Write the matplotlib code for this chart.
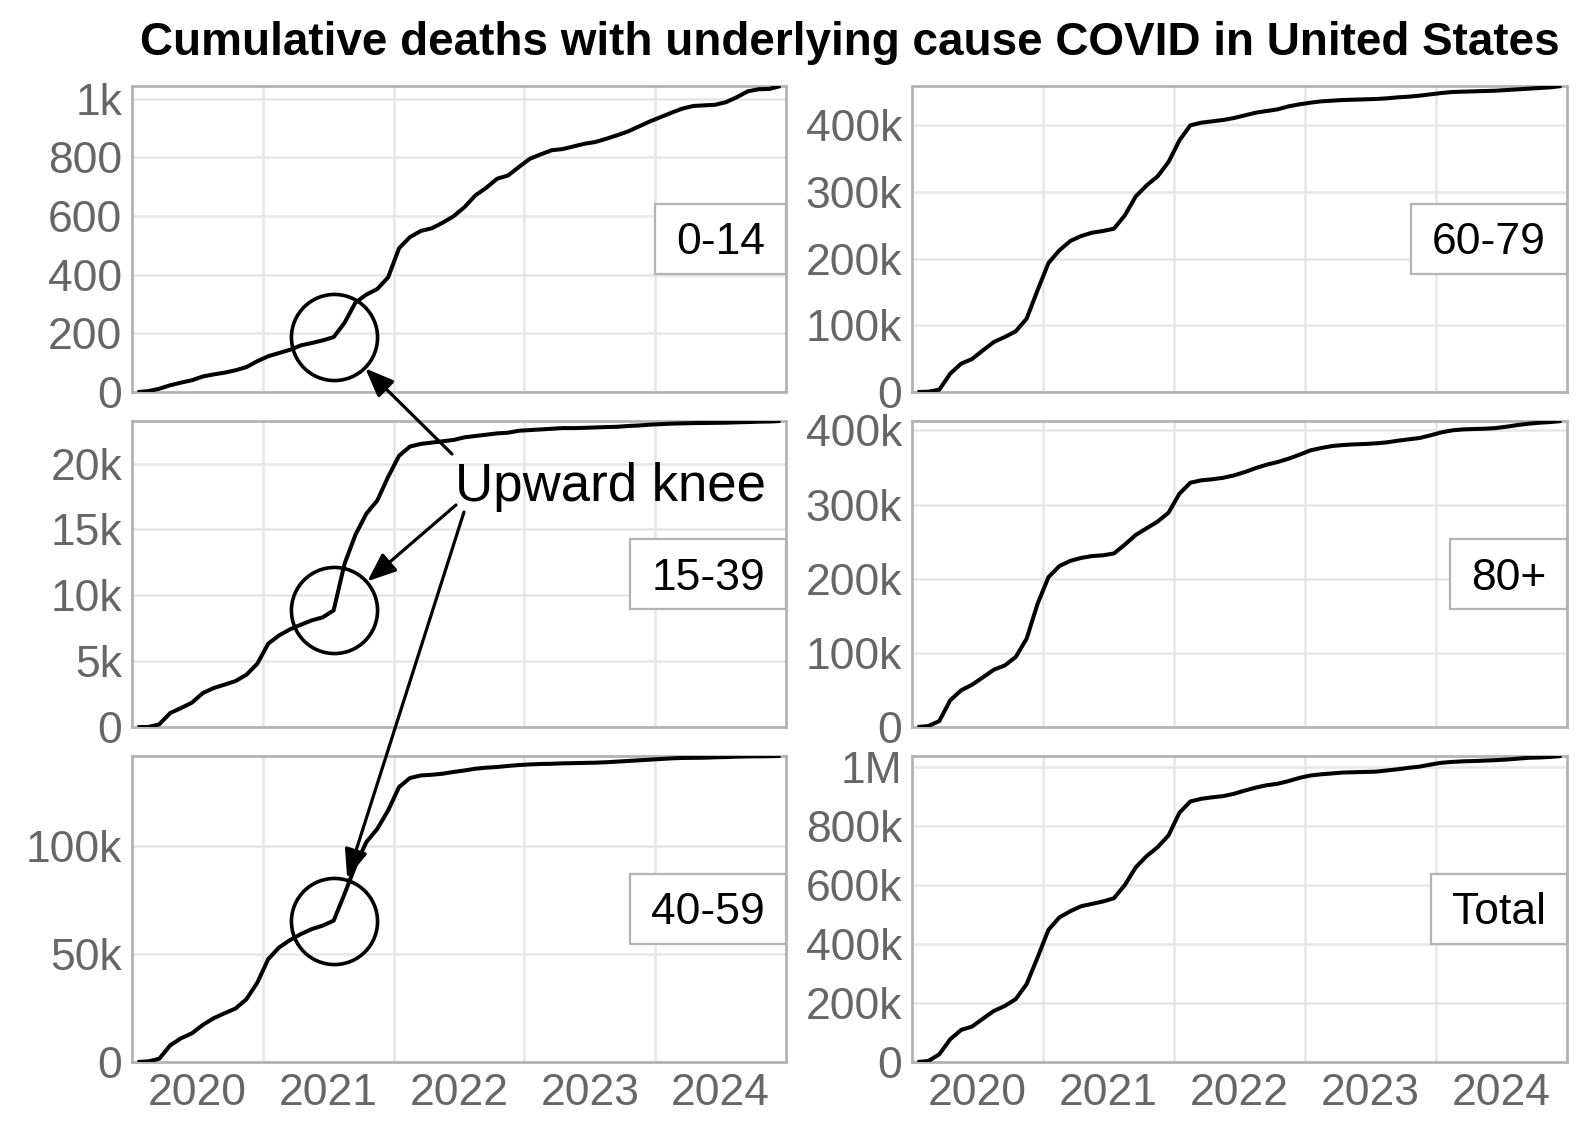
import numpy as np
import pandas as pd
import matplotlib
matplotlib.use("Agg")
import matplotlib.pyplot as plt
from matplotlib.patches import ConnectionPatch
from matplotlib.path import Path

plt.rcParams['font.family'] = ['Liberation Sans', 'DejaVu Sans']

# ---------------- data (monthly cumulative deaths, Jan 2020 - Dec 2024) ----------------
months = pd.date_range('2020-01-01', '2024-12-01', freq='MS')

age_0_14 = [0, 3, 11, 23, 32, 40, 53, 60, 66, 74, 85, 105,
            122, 133, 144, 159, 167, 176, 187, 236, 305, 332, 351, 391,
            490, 528, 549, 558, 577, 599, 630, 670, 696, 727, 738, 767,
            795, 810, 824, 828, 837, 846, 852, 863, 875, 888, 905, 922,
            937, 952, 966, 975, 977, 979, 988, 1005, 1025, 1032, 1033, 1043]

age_15_39 = [0, 0, 200, 1060, 1440, 1850, 2580, 2960, 3220, 3490, 3970, 4810,
             6330, 6960, 7420, 7770, 8100, 8330, 8860, 12400, 14600, 16200, 17200, 19000,
             20600, 21300, 21500, 21600, 21700, 21800, 22000, 22100, 22200, 22300, 22350, 22500,
             22550, 22600, 22650, 22700, 22700, 22720, 22750, 22780, 22800, 22860, 22900, 22960,
             23000, 23040, 23060, 23080, 23090, 23100, 23110, 23140, 23160, 23190, 23200, 23240]

age_40_59 = [0, 300, 1500, 7700, 11000, 13300, 17200, 20300, 22600, 24800, 29100, 36800,
             47700, 53100, 56500, 59300, 61600, 63200, 65500, 77900, 91000, 101900, 108000, 116600,
             127400, 131600, 132800, 133100, 133600, 134400, 135100, 135900, 136400, 136700, 137200, 137600,
             137900, 138100, 138200, 138400, 138500, 138600, 138700, 138900, 139200, 139500, 139800, 140100,
             140400, 140700, 140900, 140950, 141000, 141200, 141300, 141500, 141600, 141650, 141700, 141800]

age_60_79 = [0, 500, 3500, 27500, 42500, 49500, 62500, 75000, 82500, 91000, 110000, 152500,
             193500, 212500, 226500, 234000, 239000, 241500, 245000, 265000, 293500, 310000, 323500, 345000,
             377500, 400000, 404000, 406000, 408000, 411000, 415000, 419000, 421500, 424000, 428500, 431500,
             434000, 436000, 437000, 438000, 438500, 439000, 439500, 440500, 442000, 443000, 444500, 446500,
             448500, 450000, 450500, 451000, 451500, 452000, 453000, 454000, 455000, 456000, 457000, 459000]

age_80_plus = [0, 1300, 8000, 36000, 49400, 57000, 67000, 77300, 83000, 94400, 119000, 166000,
               202000, 217000, 224000, 228000, 230500, 231500, 234000, 246000, 259000, 268000, 277000, 289000,
               314600, 329400, 332600, 334000, 336000, 339300, 343800, 349200, 353700, 357300, 361800, 367200,
               373000, 376200, 378900, 380200, 381100, 381600, 382500, 383800, 386000, 387900, 389700, 393300,
               397300, 400000, 401300, 401800, 402200, 403100, 405000, 407200, 409000, 410300, 411200, 412600]

total = [0, 3400, 26000, 77000, 108700, 120000, 147000, 173000, 190000, 213000, 264000, 354000,
         448000, 490000, 511000, 528000, 536000, 544000, 555000, 600000, 660000, 698000, 728000, 768000,
         845000, 883000, 892000, 897000, 901000, 909000, 920000, 930000, 938000, 943000, 952000, 963000,
         971000, 975000, 978000, 981000, 982000, 983000, 984000, 988000, 992000, 997000, 1001000, 1008000,
         1014000, 1017000, 1019000, 1020000, 1021500, 1023000, 1025000, 1028000, 1031000, 1032000, 1034000, 1037000]

panel_labels = ['0-14', '15-39', '40-59', '60-79', '80+', 'Total']

yticks_0_14 = [0, 200, 400, 600, 800, 1000]
ylabels_0_14 = ['0', '200', '400', '600', '800', '1k']
yticks_15_39 = [0, 5000, 10000, 15000, 20000]
ylabels_15_39 = ['0', '5k', '10k', '15k', '20k']
yticks_40_59 = [0, 50000, 100000]
ylabels_40_59 = ['0', '50k', '100k']
yticks_60_79 = [0, 100000, 200000, 300000, 400000]
ylabels_60_79 = ['0', '100k', '200k', '300k', '400k']
yticks_80 = [0, 100000, 200000, 300000, 400000]
ylabels_80 = ['0', '100k', '200k', '300k', '400k']
yticks_total = [0, 200000, 400000, 600000, 800000, 1000000]
ylabels_total = ['0', '200k', '400k', '600k', '800k', '1M']

years = [2020, 2021, 2022, 2023, 2024]
year_labels = ['2020', '2021', '2022', '2023', '2024']

title = 'Cumulative deaths with underlying cause COVID in United States'
annotation_text = 'Upward knee'
knee_month = '2021-07-01'
knee_panels = ['0-14', '15-39', '40-59']

# ---------------- layout ----------------
W, H = 1590, 1140
fig = plt.figure(figsize=(W / 100, H / 100), dpi=100)
fig.patch.set_facecolor('white')

def fx(px):
    return px / W

def fy(py):
    return 1 - py / H

col_x = [132, 912]
col_w = [654, 655]
row_top = [86, 421, 756]
row_h = 306

GRID = '#E6E6E6'
BORDER = '#B3B3B3'
TICKC = '#666666'
FS = 32
SHIFT = 0.09  # text shifted down inside label box (fraction of font size)

def label_box(x0, y0, width, height, mutation_size):
    px, py = 0.47 * mutation_size, 0.33 * mutation_size
    d = SHIFT * mutation_size
    xa, ya = x0 - px, y0 - py + d
    xb, yb = x0 + width + px, y0 + height + py + d
    return Path([(xa, ya), (xb, ya), (xb, yb), (xa, yb), (xa, ya)], closed=True)

xdec = months.year + (months.month - 0.5) / 12.0
knee_idx = list(months).index(pd.Timestamp(knee_month))

panels = [
    (panel_labels[0], age_0_14, yticks_0_14, ylabels_0_14, 0, 0),
    (panel_labels[1], age_15_39, yticks_15_39, ylabels_15_39, 0, 1),
    (panel_labels[2], age_40_59, yticks_40_59, ylabels_40_59, 0, 2),
    (panel_labels[3], age_60_79, yticks_60_79, ylabels_60_79, 1, 0),
    (panel_labels[4], age_80_plus, yticks_80, ylabels_80, 1, 1),
    (panel_labels[5], total, yticks_total, ylabels_total, 1, 2),
]

axes = {}
for lab, vals, yt, yl, c, r in panels:
    ax = fig.add_axes([fx(col_x[c]), fy(row_top[r] + row_h), col_w[c] / W, row_h / H])
    axes[lab] = ax
    ax.plot(xdec, vals, color='black', lw=2.9, solid_joinstyle='round',
            solid_capstyle='butt', zorder=3)
    ax.set_xlim(years[0], years[-1] + 1)
    ax.set_ylim(min(vals), max(vals))
    ax.set_xticks(years[1:])
    ax.set_xticklabels([])
    mids = [y + 0.5 for y in years]
    if r == 2:
        ax.set_xticks(mids, labels=year_labels, minor=True)
    else:
        ax.set_xticks(mids, minor=True)
        ax.set_xticklabels([], minor=True)
    ax.set_yticks(yt)
    ax.set_yticklabels(yl)
    ax.grid(True, which='major', color=GRID, lw=1.8)
    ax.set_axisbelow(True)
    ax.tick_params(which='both', length=0, labelsize=FS, labelcolor=TICKC)
    ax.tick_params(axis='y', pad=7)
    ax.tick_params(axis='x', which='both', pad=8)
    for s in ax.spines.values():
        s.set_color(BORDER)
        s.set_linewidth(2.0)
        s.set_zorder(2.5)
    pad_pt = 0.47 * FS
    ax.annotate(lab, xy=(1, 0.5), xycoords='axes fraction',
                xytext=(-pad_pt, -SHIFT * FS), textcoords='offset points',
                ha='right', va='center', fontsize=FS, color='black', zorder=6,
                bbox=dict(boxstyle=label_box, fc='white', ec=BORDER, lw=1.6))

# circles at the knee + arrows
tails = {'0-14': (452, 454), '15-39': (456, 505), '40-59': (464, 512)}
vals_by_label = {p[0]: p[1] for p in panels}
for lab in knee_panels:
    ax = axes[lab]
    vals = vals_by_label[lab]
    kx, ky = xdec[knee_idx], vals[knee_idx]
    ax.plot([kx], [ky], marker='o', ms=62, mfc='none', mec='black', mew=2.6,
            clip_on=False, zorder=5)
    tx, ty = tails[lab]
    cp = ConnectionPatch(xyA=(fx(tx), fy(ty)), coordsA='figure fraction',
                         xyB=(kx, ky), coordsB='data', axesB=ax,
                         arrowstyle='-|>,head_length=0.8,head_width=0.32',
                         mutation_scale=22, shrinkA=0, shrinkB=32,
                         lw=2.3, color='black', zorder=10)
    fig.add_artist(cp)

fig.text(fx(455), fy(501), annotation_text, fontsize=38, ha='left', va='baseline',
         color='black', zorder=11)

fig.text(fx(850), fy(55), title, fontsize=33, fontweight='bold', ha='center',
         va='baseline', color='black')

fig.savefig('out.png', dpi=100, facecolor='white')
